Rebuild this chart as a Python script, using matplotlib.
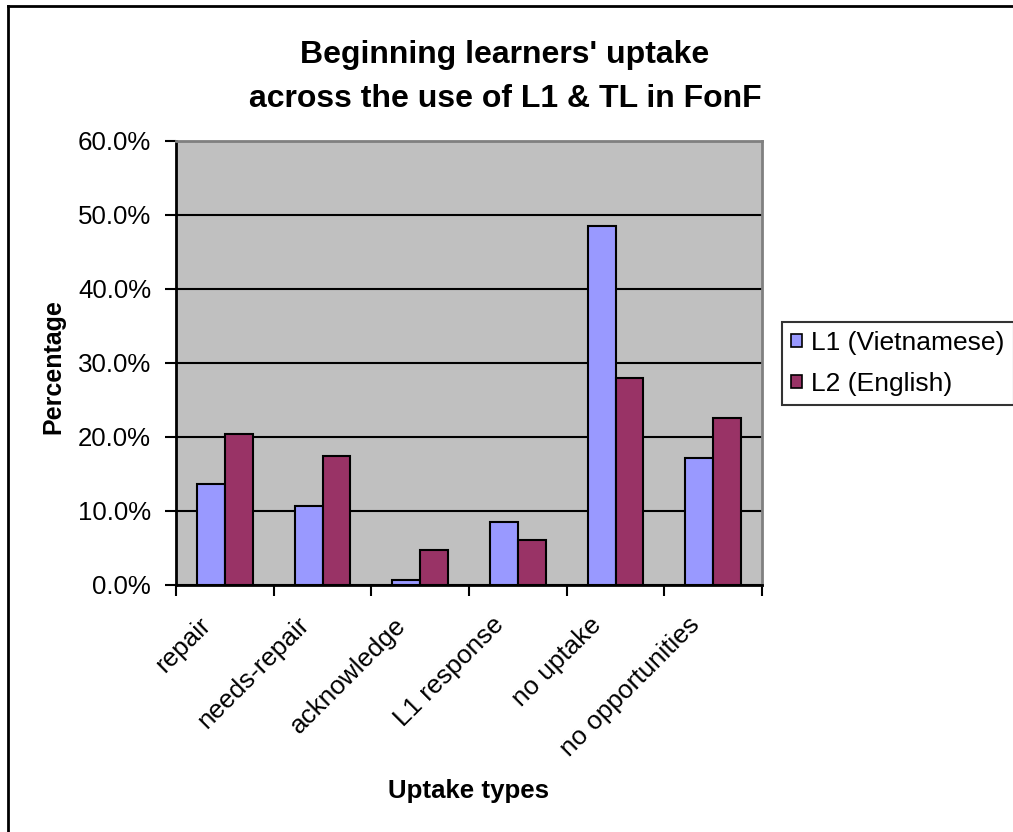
import numpy as np
import matplotlib
matplotlib.use("Agg")
import matplotlib.pyplot as plt
from matplotlib.patches import Patch
from matplotlib.lines import Line2D
from matplotlib.ticker import FuncFormatter
import matplotlib.transforms as mtransforms

plt.rcParams['font.family'] = ['Liberation Sans', 'DejaVu Sans']

# datos (porcentajes)
categorias = ["repair", "needs-repair", "acknowledge", "L1 response", "no uptake", "no opportunities"]
l1_vietnamese = [13.6, 10.7, 0.7, 8.5, 48.5, 17.2]
l2_english = [20.4, 17.5, 4.7, 6.1, 28.0, 22.6]
series = ["L1 (Vietnamese)", "L2 (English)"]
yticks = [0, 10, 20, 30, 40, 50, 60]

W, H = 1013, 832
fig = plt.figure(figsize=(W / 100, H / 100), dpi=100)
fig.patch.set_facecolor("white")

# borde exterior (solo arriba e izquierda, la imagen esta recortada)
fig.add_artist(Line2D([8 / W, 1], [1 - 6 / H, 1 - 6 / H], color="black", lw=2, transform=fig.transFigure))
fig.add_artist(Line2D([8 / W, 8 / W], [0, 1 - 6 / H], color="black", lw=2, transform=fig.transFigure))

ax = fig.add_axes([176 / W, 1 - 585 / H, (762 - 176) / W, (585 - 141) / H])
ax.set_facecolor("#C0C0C0")

x = np.arange(len(categorias))
w = 0.2857
ax.bar(x - w / 2, l1_vietnamese, w, color="#9999FF", edgecolor="black", lw=1.5, label=series[0], zorder=3)
ax.bar(x + w / 2, l2_english, w, color="#993366", edgecolor="black", lw=1.5, label=series[1], zorder=3)

ax.set_xlim(-0.5, len(categorias) - 0.5)
ax.set_ylim(0, 60)
ax.set_yticks(yticks)
ax.yaxis.set_major_formatter(FuncFormatter(lambda v, p: f"{v:.1f}%"))
ax.yaxis.grid(True, color="black", lw=1.5)
ax.set_axisbelow(True)

# ticks en los limites de categoria, etiquetas en el centro
ax.set_xticks(np.arange(len(categorias) + 1) - 0.5)
ax.set_xticklabels([])
ax.set_xticks(x, minor=True)
ax.set_xticklabels(categorias, minor=True, rotation=45, ha="right", va="top", fontsize=18.8)
ax.tick_params(axis="x", which="major", direction="out", length=8, width=1.5)
ax.tick_params(axis="x", which="minor", length=0, pad=20)
ax.tick_params(axis="y", direction="out", length=8, width=1.5, labelsize=18.6, pad=10)
off = mtransforms.ScaledTranslation(-9 / 100, 0, fig.dpi_scale_trans)
for lab in ax.xaxis.get_minorticklabels():
    lab.set_transform(lab.get_transform() + off)

for s in ["left", "bottom"]:
    ax.spines[s].set_color("black")
    ax.spines[s].set_linewidth(2)
for s in ["top", "right"]:
    ax.spines[s].set_color("#808080")
    ax.spines[s].set_linewidth(2)

# titulos
fig.text(505 / W, 1 - 63 / H, "Beginning learners' uptake", ha="center", va="baseline",
         fontsize=23, fontweight="bold")
fig.text(505 / W, 1 - 107 / H, "across the use of L1 & TL in FonF", ha="center", va="baseline",
         fontsize=23, fontweight="bold")
fig.text(469 / W, 1 - 798 / H, "Uptake types", ha="center", va="baseline", fontsize=18.6, fontweight="bold")
fig.text(53 / W, 1 - 367 / H, "Percentage", ha="center", va="center", rotation=90,
         fontsize=18, fontweight="bold")

handles = [Patch(facecolor="#9999FF", edgecolor="black", lw=1.2),
           Patch(facecolor="#993366", edgecolor="black", lw=1.2)]
leg = fig.legend(handles, series, loc="upper left", bbox_to_anchor=(782 / W, 1 - 322 / H),
                 bbox_transform=fig.transFigure, borderaxespad=0, fancybox=False, shadow=False,
                 frameon=True, fontsize=19, handlelength=0.4, handleheight=0.4,
                 handletextpad=0.35, labelspacing=0.62, borderpad=0.35)
leg.get_frame().set_edgecolor("black")
leg.get_frame().set_linewidth(1.5)

plt.savefig("out.png", dpi=100)
